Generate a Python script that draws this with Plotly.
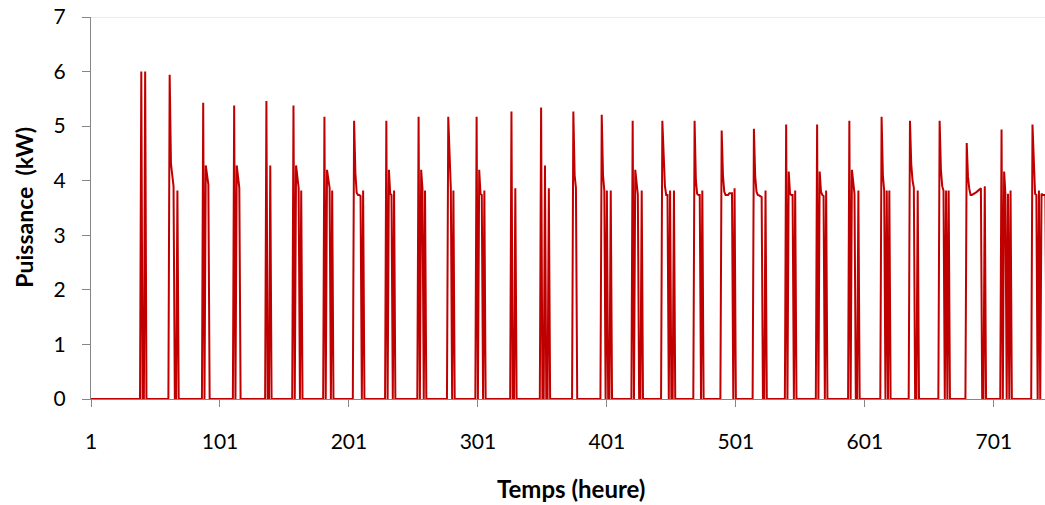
import plotly.graph_objects as go

# ---------------- data ----------------
n_hours = 744

pulse_hours = [
    40, 43,
    62, 63, 64, 65, 68,
    88, 90, 91, 92,
    112, 114, 115, 116,
    137, 140,
    158, 160, 161, 162, 164,
    182, 184, 185, 186, 188,
    205, 206, 207, 208, 209, 210, 212,
    230, 232, 233, 234, 236,
    255, 257, 258, 260,
    278, 279, 280, 282,
    300, 302, 303, 304, 306,
    327, 330,
    350, 353, 356,
    375, 376, 377,
    397, 398, 399, 401, 404,
    421, 423, 424, 425, 428,
    444, 445, 446, 447, 448, 450, 453,
    469, 470, 471, 472, 473, 475,
    490, 491, 492, 493, 494, 495, 496, 497, 498, 500,
    515, 516, 517, 518, 519, 520, 521, 524,
    540, 542, 543, 544, 545, 547,
    564, 566, 567, 568, 569, 571,
    589, 591, 592, 593, 596,
    614, 615, 616, 618, 620,
    636, 637, 638, 639, 642,
    659, 660, 661, 662, 664, 666,
    680, 681, 682, 683, 684, 685, 686, 687, 688, 689, 690, 691, 694,
    707, 709, 710, 712, 714,
    731, 732, 733, 734, 736, 738, 739, 740, 741,
]

pulse_kw = [
    6.00, 6.00,
    5.94, 4.32, 4.10, 3.90, 3.82,
    5.43, 4.28, 4.05, 3.93,
    5.38, 4.28, 4.00, 3.87,
    5.46, 4.28,
    5.38, 4.28, 4.05, 3.87, 3.82,
    5.17, 4.20, 4.00, 3.87, 3.82,
    5.10, 4.14, 3.78, 3.74, 3.74, 3.72, 3.82,
    5.10, 4.20, 3.76, 3.74, 3.82,
    5.17, 4.20, 3.85, 3.82,
    5.17, 4.40, 3.85, 3.82,
    5.17, 4.20, 3.76, 3.74, 3.82,
    5.27, 3.86,
    5.34, 4.28, 3.86,
    5.27, 4.10, 3.87,
    5.21, 4.10, 3.82, 3.82, 3.82,
    5.10, 4.20, 3.90, 3.74, 3.82,
    5.10, 4.30, 3.90, 3.74, 3.74, 3.82, 3.82,
    5.10, 4.00, 3.76, 3.74, 3.74, 3.82,
    4.92, 4.10, 3.80, 3.74, 3.74, 3.74, 3.77, 3.77, 3.77, 3.86,
    4.95, 4.08, 3.80, 3.74, 3.73, 3.72, 3.70, 3.82,
    5.03, 4.17, 3.76, 3.74, 3.74, 3.82,
    5.03, 4.17, 3.80, 3.74, 3.72, 3.82,
    5.10, 4.20, 3.90, 3.76, 3.82,
    5.17, 4.10, 3.82, 3.82, 3.82,
    5.10, 4.30, 4.00, 3.87, 3.82,
    5.10, 4.20, 3.90, 3.82, 3.82, 3.82,
    4.69, 4.07, 3.85, 3.74, 3.74, 3.75, 3.76, 3.78, 3.80, 3.82, 3.84, 3.86, 3.90,
    4.94, 4.17, 3.76, 3.76, 3.82,
    5.03, 4.20, 3.76, 3.74, 3.82, 3.76, 3.74, 3.74, 3.74,
]

x_tick_vals = [1, 101, 201, 301, 401, 501, 601, 701]
y_tick_vals = [0, 1, 2, 3, 4, 5, 6, 7]

x_title = "Temps (heure)"
y_title = "Puissance\u00a0 (kW)"

# ---------------- build the hourly series ----------------
lookup = dict(zip(pulse_hours, pulse_kw))
hours = list(range(1, n_hours + 1))
power = [lookup.get(h, 0.0) for h in hours]

FONT = "Lato, 'Open Sans', sans-serif"
AXIS_GRAY = "#868686"

fig = go.Figure()
fig.add_trace(go.Scatter(
    x=hours, y=power, mode="lines",
    line=dict(color="#C00000", width=2),
    hoverinfo="skip", showlegend=False,
))

fig.update_layout(
    width=1045, height=505,
    margin=dict(l=91, r=0, t=17, b=106, pad=0),
    paper_bgcolor="white", plot_bgcolor="white",
    font=dict(family=FONT, size=21, color="black"),
    xaxis=dict(
        range=[1, 740.7], tickmode="array", tickvals=x_tick_vals,
        ticktext=[str(v) for v in x_tick_vals],
        ticks="outside", ticklen=7, tickwidth=1, tickcolor=AXIS_GRAY,
        showline=True, linecolor=AXIS_GRAY, linewidth=1,
        showgrid=False, zeroline=False, layer="below traces",
        tickfont=dict(family=FONT, size=21, color="black"),
        ticklabelstandoff=17,
    ),
    yaxis=dict(
        range=[0, 7], tickmode="array", tickvals=y_tick_vals,
        ticks="outside", ticklen=8, tickwidth=1, tickcolor=AXIS_GRAY,
        showline=True, linecolor=AXIS_GRAY, linewidth=1,
        showgrid=False, zeroline=False, layer="below traces",
        tickfont=dict(family=FONT, size=21, color="black"),
        ticklabelstandoff=12,
    ),
    shapes=[dict(
        type="line", xref="paper", x0=0, x1=1, yref="y", y0=7, y1=7,
        line=dict(color="#D9D9D9", width=1), layer="below",
    )],
    annotations=[
        dict(text=x_title, xref="paper", yref="paper", x=0.503, y=-0.2356,
             xanchor="center", yanchor="middle", showarrow=False,
             font=dict(family=FONT, size=24, color="black", weight="bold")),
        dict(text=y_title, xref="paper", yref="paper", x=-0.0702, y=0.501,
             xanchor="center", yanchor="middle", showarrow=False, textangle=-90,
             font=dict(family=FONT, size=23, color="black", weight="bold")),
    ],
)

fig.write_html("out.html")
